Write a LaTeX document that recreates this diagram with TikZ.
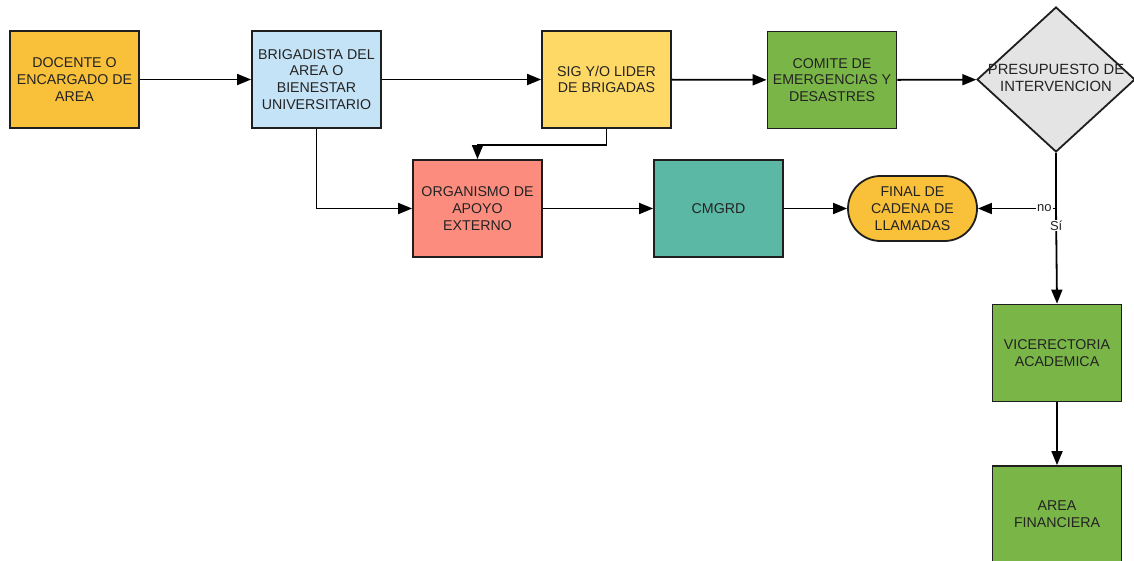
\documentclass[tikz,border=0pt]{standalone}
\usepackage{fontspec}
\setmainfont{Liberation Sans}
\usetikzlibrary{arrows.meta,shapes.geometric,shapes.misc}

\definecolor{cOrange}{RGB}{249,192,58}
\definecolor{cBlue}{RGB}{197,227,246}
\definecolor{cYellow}{RGB}{255,217,102}
\definecolor{cGreen}{RGB}{122,181,71}
\definecolor{cGray}{RGB}{228,228,228}
\definecolor{cSalmon}{RGB}{252,141,126}
\definecolor{cTeal}{RGB}{91,184,165}
\definecolor{cText}{RGB}{35,35,35}
\definecolor{cBorder}{RGB}{30,30,30}

\tikzset{
  flowbox/.style={draw=cBorder, line width=1.8pt, minimum width=129pt, minimum height=97pt,
                  inner sep=0pt, align=center, text=cText,
                  font=\fontsize{14.2}{16.8}\selectfont},
  endbox/.style={flowbox, rounded rectangle, minimum height=65pt},
  decbox/.style={draw=cBorder, line width=1.8pt, diamond, minimum width=158pt,
                 minimum height=145pt, inner sep=0pt, fill=cGray},
  link/.style={line width=1.8pt, -{Triangle[length=14pt,width=11pt]}},
  branch/.style={fill=white, inner sep=1pt, text=cText, font=\fontsize{13}{15}\selectfont}
}

\begin{document}
\begin{tikzpicture}[x=1pt,y=-1pt]

%% page frame (pixel units, y going down)
\useasboundingbox (0,0) rectangle (1134,560);

%% first row
\node[flowbox, fill=cOrange] (docente) at (74.5,79.5) {DOCENTE O\\ENCARGADO DE\\AREA};
\node[flowbox, fill=cBlue] (brigadista) at (316.5,79.5) {BRIGADISTA DEL\\AREA O\\BIENESTAR\\UNIVERSITARIO};
\node[flowbox, fill=cYellow] (sig) at (606.5,79.5) {SIG Y/O LIDER\\DE BRIGADAS};
\node[flowbox, fill=cGreen] (comite) at (832,80) {COMITE DE\\EMERGENCIAS Y\\DESASTRES};
\node[decbox] (presupuesto) at (1056,79.5) {};
\node[align=center, text=cText, font=\fontsize{14.8}{17.5}\selectfont] (presutext) at (1056,78) {PRESUPUESTO DE\\INTERVENCION};

%% second row
\node[flowbox, fill=cSalmon] (organismo) at (477.5,208.5) {ORGANISMO DE\\APOYO\\EXTERNO};
\node[flowbox, fill=cTeal] (cmgrd) at (718.5,208.5) {CMGRD};
\node[endbox, fill=cOrange] (final) at (912.5,208.5) {FINAL DE\\CADENA DE\\LLAMADAS};

%% right column
\node[flowbox, fill=cGreen] (vice) at (1057,353) {VICERECTORIA\\ACADEMICA};
\node[flowbox, fill=cGreen] (financiera) at (1057,514.5) {AREA\\FINANCIERA};

\coordinate (split) at (presupuesto.south |- final.east);

%% connectors
\draw[link] (docente) -- (brigadista);
\draw[link] (brigadista) -- (sig);
\draw[link] (sig) -- (comite);
\draw[link] (comite) -- (presupuesto);
\draw[link] (brigadista.south) |- (organismo.west);
\draw[link] (sig.south) -- ++(0,16) -| (organismo.north);
\draw[link] (organismo) -- (cmgrd);
\draw[link] (cmgrd) -- (final);

\draw[line width=1.8pt] (presupuesto.south) -- (split);
\draw[link] (split) -- node[branch, pos=0.15] (no) {no} (final.east);
\draw[link] (split) -- node[branch, pos=0.18] (si) {Sí} (vice.north);
\draw[link] (vice) -- (financiera);

\end{tikzpicture}
\end{document}
